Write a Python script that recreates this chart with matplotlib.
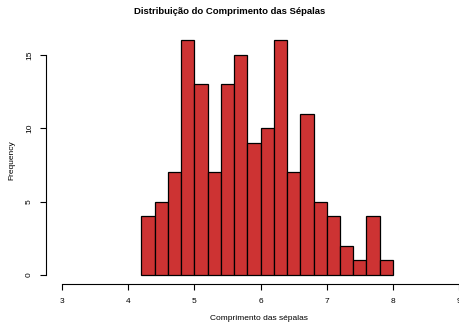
import matplotlib
matplotlib.use('Agg')
import matplotlib.pyplot as plt

# Histograma do comprimento das sépalas (iris)
limites = [4.2, 4.4, 4.6, 4.8, 5.0, 5.2, 5.4, 5.6, 5.8, 6.0,
           6.2, 6.4, 6.6, 6.8, 7.0, 7.2, 7.4, 7.6, 7.8, 8.0]
contagens = [4, 5, 7, 16, 13, 7, 13, 15, 9, 10, 16, 7, 11, 5, 4, 2, 1, 4, 1]
ticks_x = [3, 4, 5, 6, 7, 8, 9]
ticks_y = [0, 5, 10, 15]

plt.rcParams['font.family'] = ['Liberation Sans', 'DejaVu Sans']

W, H = 460, 324
fig = plt.figure(figsize=(W / 100, H / 100), dpi=100)

# área de plotagem (estilo R, com extensão de 4%)
esq, dir_, base, topo = 46.1, 475.0, 284.4, 30.9
ax = fig.add_axes([esq / W, (H - base) / H, (dir_ - esq) / W, (base - topo) / H])
ax.set_xlim(3 - 0.24, 9 + 0.24)
ax.set_ylim(-0.64, 16.64)

larguras = [b - a for a, b in zip(limites[:-1], limites[1:])]
ax.bar(limites[:-1], contagens, width=larguras, align='edge',
       color='#CD3333', edgecolor='black', linewidth=0.9)

for lado in ['top', 'right']:
    ax.spines[lado].set_visible(False)
ax.spines['left'].set_bounds(ticks_y[0], ticks_y[-1])
ax.spines['bottom'].set_bounds(ticks_x[0], ticks_x[-1])
for lado in ['left', 'bottom']:
    ax.spines[lado].set_linewidth(0.8)

ax.set_xticks(ticks_x)
ax.set_yticks(ticks_y)
ax.set_yticklabels([str(t) for t in ticks_y], rotation=90, va='center')
ax.tick_params(axis='both', labelsize=6, length=4.5, width=0.8, pad=5)

fig.text(0.5, 1 - 12 / H, 'Distribuição do Comprimento das Sépalas',
         ha='center', va='center', fontsize=6.8, fontweight='bold')
fig.text(259 / W, 1 - 319 / H, 'Comprimento das sépalas',
         ha='center', va='center', fontsize=6)
fig.text(12 / W, 1 - 160 / H, 'Frequency', rotation=90,
         ha='center', va='center', fontsize=6)

fig.savefig('out.png', dpi=100)
